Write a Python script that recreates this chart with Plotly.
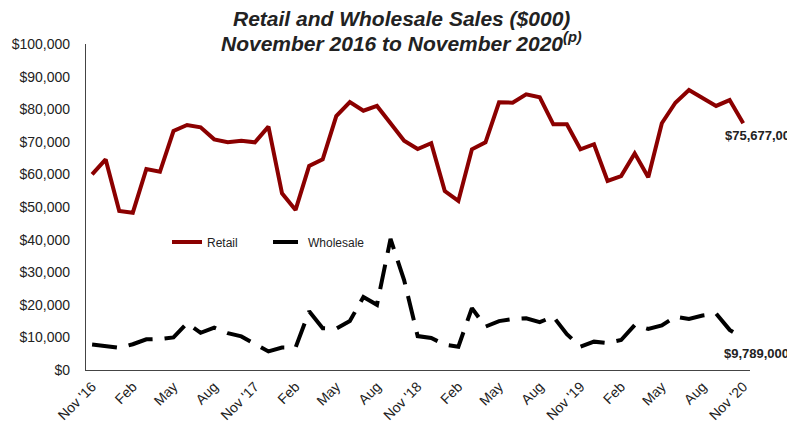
import plotly.graph_objects as go

months = ["Nov 2016", "Dec 2016", "Jan 2017", "Feb 2017", "Mar 2017", "Apr 2017", "May 2017", "Jun 2017",
          "Jul 2017", "Aug 2017", "Sep 2017", "Oct 2017", "Nov 2017", "Dec 2017", "Jan 2018", "Feb 2018",
          "Mar 2018", "Apr 2018", "May 2018", "Jun 2018", "Jul 2018", "Aug 2018", "Sep 2018", "Oct 2018",
          "Nov 2018", "Dec 2018", "Jan 2019", "Feb 2019", "Mar 2019", "Apr 2019", "May 2019", "Jun 2019",
          "Jul 2019", "Aug 2019", "Sep 2019", "Oct 2019", "Nov 2019", "Dec 2019", "Jan 2020", "Feb 2020",
          "Mar 2020", "Apr 2020", "May 2020", "Jun 2020", "Jul 2020", "Aug 2020", "Sep 2020", "Oct 2020",
          "Nov 2020"]

retail = [60000, 64600, 48800, 48250, 61650, 60800, 73300, 75150, 74450, 70750, 69850, 70350,
          69850, 74650, 54200, 49100, 62600, 64600, 77900, 82200, 79550, 81000, 75700, 70350,
          67800, 69550, 54900, 51850, 67700, 69850, 82100, 82000, 84550, 83650, 75350, 75350,
          67700, 69250, 58000, 59500, 66450, 59100, 75700, 82000, 85900, 83350, 81000, 82800,
          75677]

wholesale = [7800, 7200, 6800, 7900, 9400, 9500, 10000, 14400, 11400, 13000, 11300, 10300,
             8000, 5700, 6900, 6900, 18000, 12800, 12700, 15000, 22400, 20000, 40200, 27600,
             10400, 9800, 7800, 7150, 19000, 13300, 15000, 15600, 15850, 14700, 16350, 11000,
             7150, 8700, 8300, 9200, 13800, 12600, 13650, 16350, 15650, 16700, 17300, 12300,
             9789]

tick_months = months[::3]
tick_labels = ["Nov '16", "Feb", "May", "Aug", "Nov '17", "Feb", "May", "Aug", "Nov '18",
               "Feb", "May", "Aug", "Nov '19", "Feb", "May", "Aug", "Nov '20"]

end_labels = ["$75,677,000", "$9,789,000"]
title_lines = ["Retail and Wholesale Sales ($000)", "November 2016 to November 2020"]

RED = "#8B0000"
FONT = "Liberation Sans, Arial, sans-serif"

fig = go.Figure()
fig.add_trace(go.Scatter(x=months, y=retail, name="Retail", mode="lines",
                         line=dict(color=RED, width=4)))
fig.add_trace(go.Scatter(x=months, y=wholesale, name="Wholesale", mode="lines",
                         line=dict(color="black", width=4, dash="25px,12px")))

fig.add_annotation(x=months[-1], y=retail[-1], text="<b>" + end_labels[0] + "</b>",
                   showarrow=False, xanchor="left", yanchor="middle", xshift=-20, yshift=-12,
                   font=dict(family=FONT, size=13, color="#222"))
fig.add_annotation(x=months[-1], y=wholesale[-1], text="<b>" + end_labels[1] + "</b>",
                   showarrow=False, xanchor="left", yanchor="middle", xshift=-21, yshift=-15,
                   font=dict(family=FONT, size=13, color="#222"))

fig.add_annotation(xref="paper", yref="paper", x=0.4755, y=1 + (44 - 18) / 326,
                   text="<b><i>" + title_lines[0] + "</i></b>", showarrow=False,
                   xanchor="center", yanchor="middle", font=dict(family=FONT, size=21, color="#222"))
fig.add_annotation(xref="paper", yref="paper", x=0.4755, y=1 + (44 - 42) / 326,
                   text="<b><i>" + title_lines[1] + "<sup>(p)</sup></i></b>", showarrow=False,
                   xanchor="center", yanchor="middle", font=dict(family=FONT, size=21, color="#222"))

fig.update_layout(
    width=795, height=429,
    margin=dict(l=78, r=53, t=36, b=67, autoexpand=False),
    paper_bgcolor="white", plot_bgcolor="white",
    font=dict(family=FONT, size=14, color="#222"),
    legend=dict(orientation="h", x=0.122, y=0.393, xanchor="left", yanchor="middle",
                bgcolor="rgba(0,0,0,0)", font=dict(family=FONT, size=12, color="#222"),
                entrywidth=56, entrywidthmode="pixels", itemwidth=30),
    showlegend=True,
)

fig.update_xaxes(type="category", range=[-0.45, 48.5], tickmode="array", automargin=False,
                 tickvals=tick_months, ticktext=tick_labels,
                 tickangle=-45, showline=True, linecolor="#444", linewidth=1.2,
                 showgrid=False, ticks="", ticklabelstandoff=2,
                 tickfont=dict(family=FONT, size=14, color="#222"))
fig.update_yaxes(range=[0, 100000], dtick=10000, tickprefix="$", tickformat=",d", automargin=False,
                 showline=True, linecolor="#444", linewidth=1.2, showgrid=False,
                 zeroline=False, ticks="", ticklabelstandoff=12,
                 tickfont=dict(family=FONT, size=14, color="#222"))

fig.write_html("out.html")
